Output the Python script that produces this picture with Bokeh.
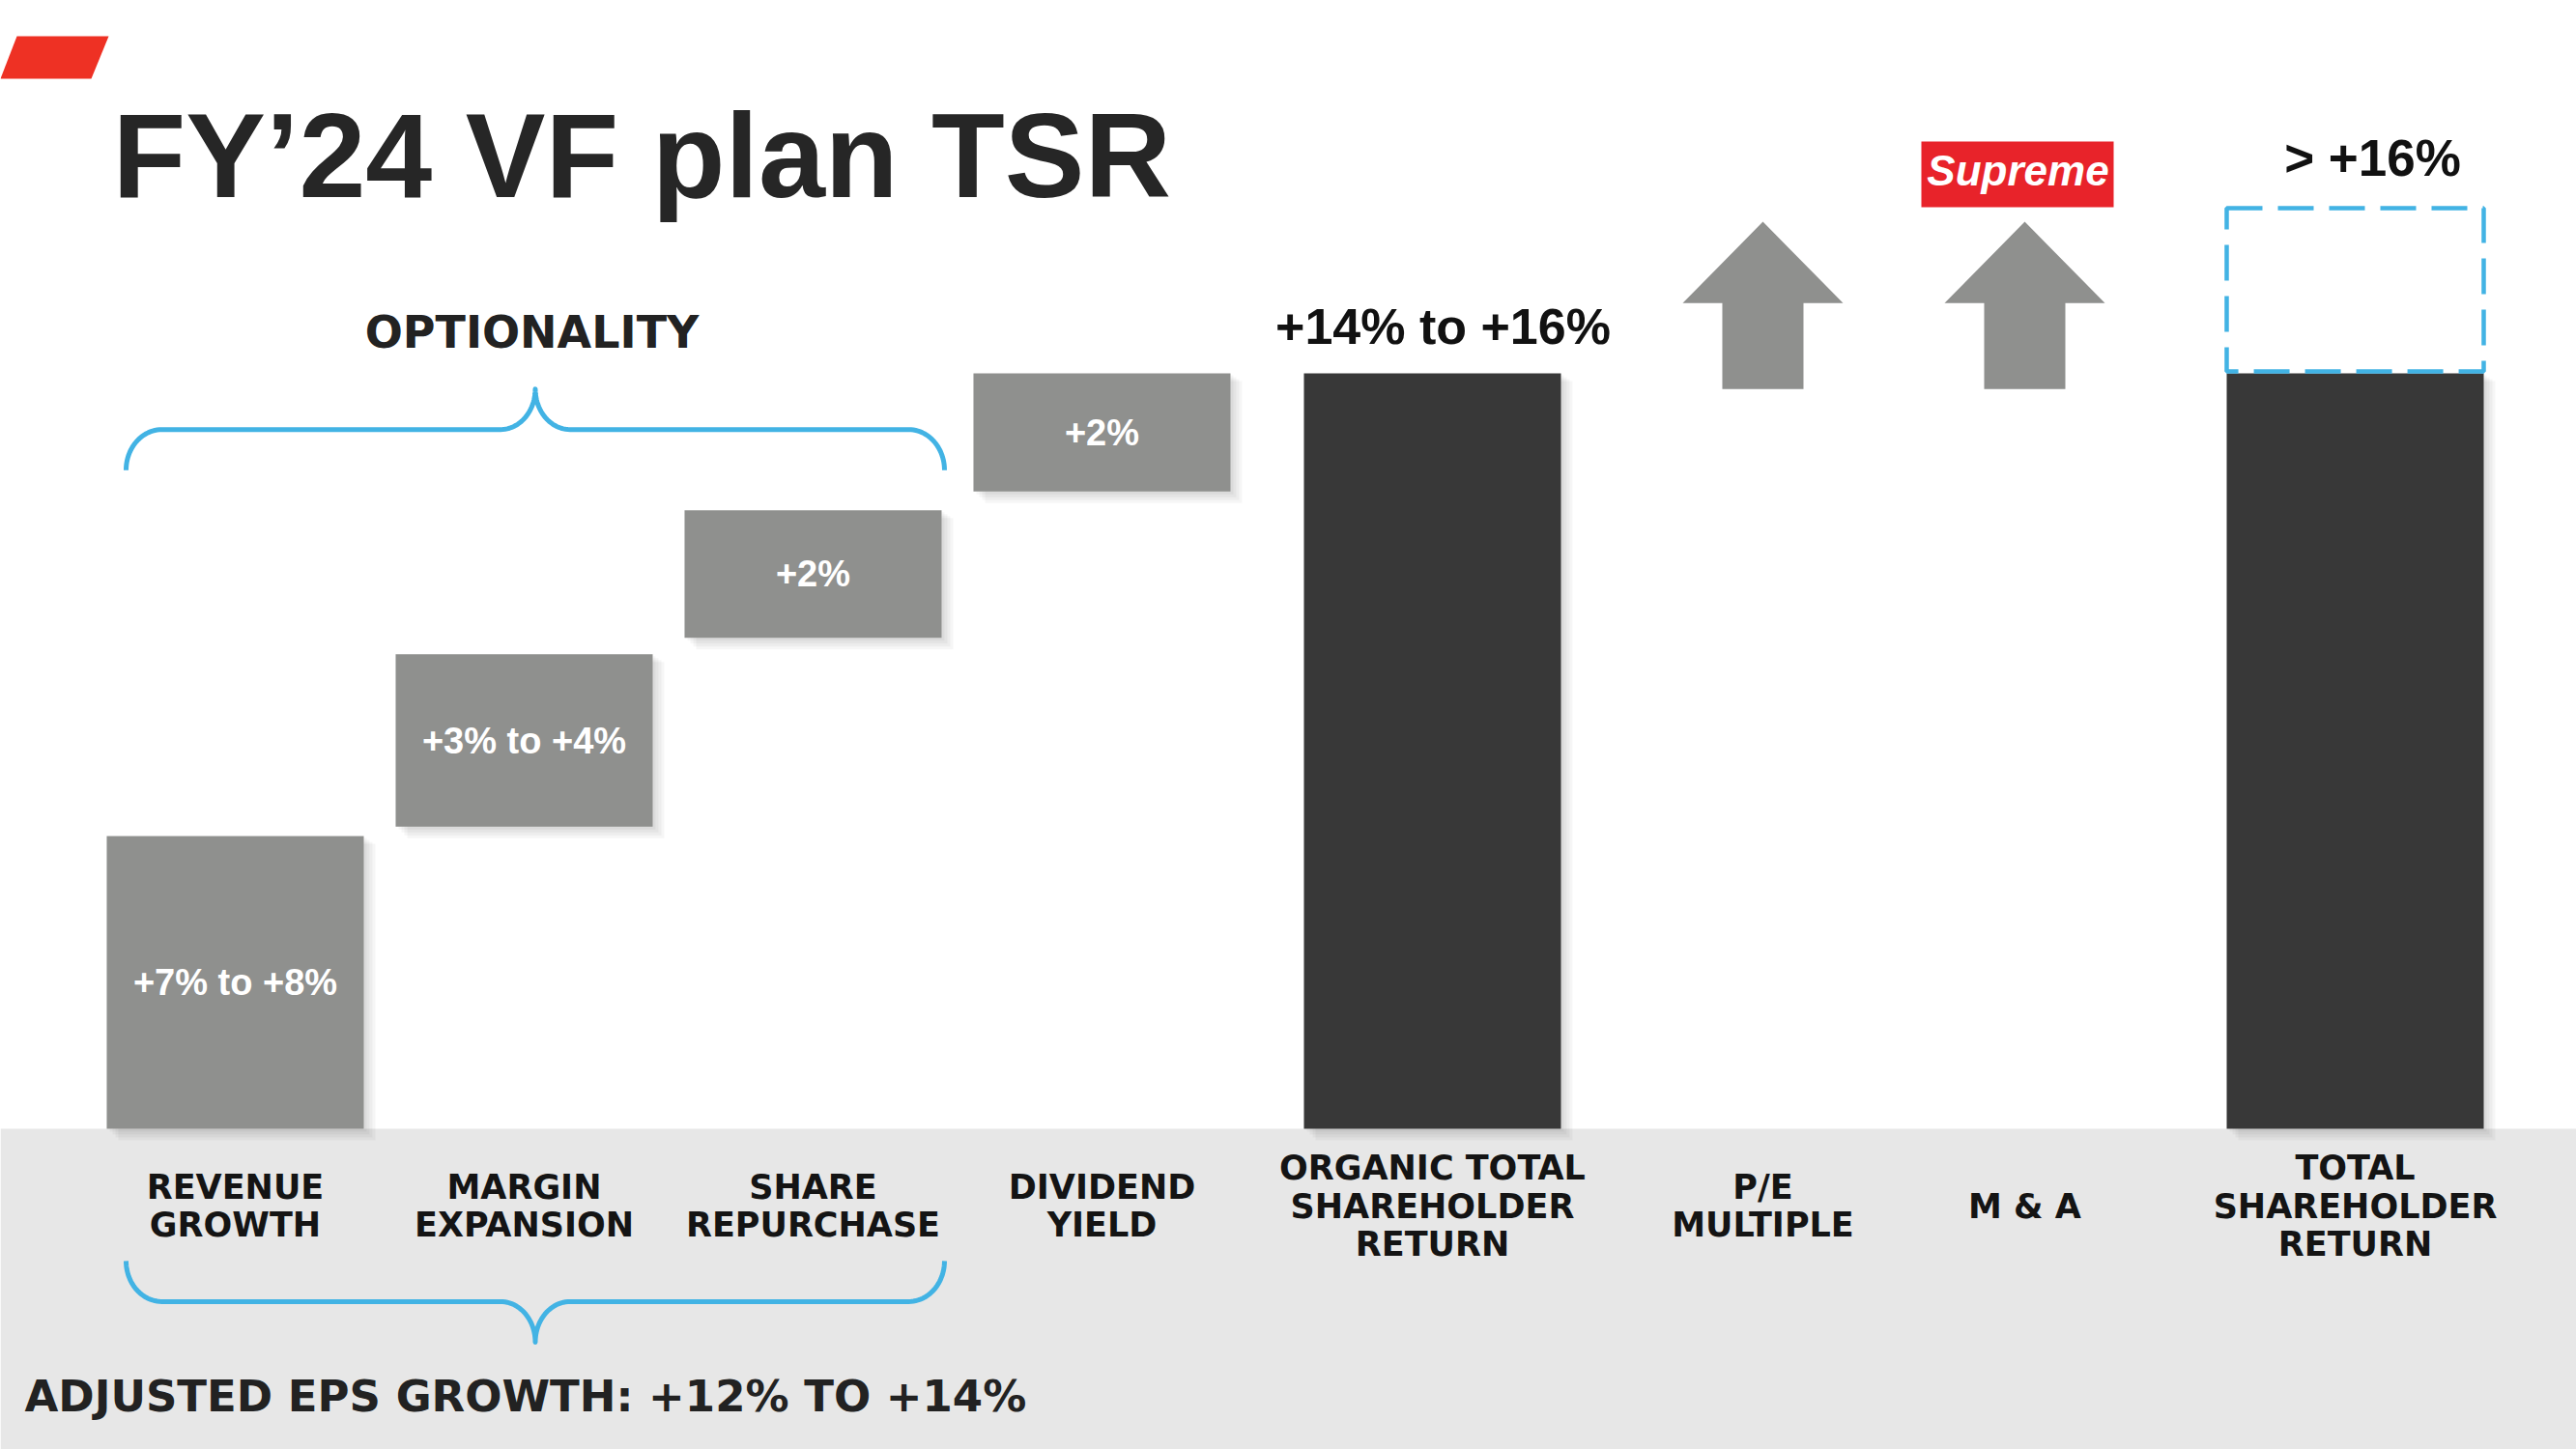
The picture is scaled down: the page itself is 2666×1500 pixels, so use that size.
import math
from bokeh.plotting import figure
from bokeh.models import (ColumnDataSource, FactorRange, Range1d, BoxAnnotation,
                          PolyAnnotation, Label)
from bokeh.transform import dodge
from bokeh.core.properties import value
from bokeh.embed import file_html
from bokeh.resources import INLINE

# ---------------- data ----------------
groups = ["eps", "eps", "eps", "eps", "organic", "upside", "upside", "total"]
subgroups = ["eps", "eps", "eps", "eps", "organic", "pe", "ma", "total"]
categories = ["REVENUE GROWTH", "MARGIN EXPANSION", "SHARE REPURCHASE", "DIVIDEND YIELD",
              "ORGANIC TOTAL SHAREHOLDER RETURN", "P/E MULTIPLE", "M & A",
              "TOTAL SHAREHOLDER RETURN"]
category_labels = ["REVENUE\nGROWTH", "MARGIN\nEXPANSION", "SHARE\nREPURCHASE",
                   "DIVIDEND\nYIELD", "ORGANIC TOTAL\nSHAREHOLDER\nRETURN",
                   "P/E\nMULTIPLE", "M & A", "TOTAL\nSHAREHOLDER\nRETURN"]

# waterfall steps (percent, as drawn)
step_index = [0, 1, 2, 3]
step_bottom = [0.0, 6.4, 10.4, 13.5]
step_top = [6.2, 10.05, 13.1, 16.0]
step_labels = ["+7% to +8%", "+3% to +4%", "+2%", "+2%"]

# totals
total_index = [4, 7]
total_top = [16.0, 16.0]
organic_label = "+14% to +16%"
tsr_label = "> +16%"
tsr_upside_top = 19.5          # dashed "more than" box above the TSR bar

# upside drivers drawn as arrows
arrow_index = [5, 6]

title_text = "FY\u201924 VF plan TSR"
optionality_text = "OPTIONALITY"
eps_text = "ADJUSTED EPS GROWTH: +12% TO +14%"
logo_text = "Supreme"

# ---------------- layout / style ----------------
W, H = 2666, 1500
FACTOR_PAD = 0.1033
SUBGROUP_PAD = 0.0
GROUP_PAD = 0.262
X_PAD = 0.3708
SHIFT = 0.0258
Y_MIN, Y_MAX = -6.793, 23.898
PX = 1 / 271.0                                  # x units per pixel
PY = (Y_MAX - Y_MIN) / H                        # y units per pixel
BAR_W = 266 * PX

STEP_COLOR = "#8f908e"
TOTAL_COLOR = "#383838"
BLUE = "#42b3e4"
BAND = "#e7e7e7"
LABEL_Y = -1.64

factors = list(zip(groups, subgroups, categories))

p = figure(width=W, height=H,
           x_range=FactorRange(factors=factors, factor_padding=FACTOR_PAD,
                               subgroup_padding=SUBGROUP_PAD,
                               group_padding=GROUP_PAD, range_padding=X_PAD,
                               range_padding_units="absolute"),
           y_range=Range1d(Y_MIN, Y_MAX),
           output_backend="svg", toolbar_location=None,
           x_axis_location=None, y_axis_location=None,
           min_border=0, outline_line_color=None)
p.grid.visible = False
p.background_fill_color = "white"
p.border_fill_color = "white"

# grey band below the baseline
p.add_layout(BoxAnnotation(top=0, fill_color=BAND, fill_alpha=1.0,
                           line_alpha=0, level="underlay"))

# ---------------- bars ----------------
bar_x = [factors[i] for i in step_index] + [factors[i] for i in total_index]
bar_bottom = step_bottom + [0.0] * len(total_index)
bar_top = step_top + total_top
bar_color = [STEP_COLOR] * len(step_index) + [TOTAL_COLOR] * len(total_index)

# soft drop shadow
for k in range(1, 5):
    sh = ColumnDataSource(dict(x=bar_x,
                               top=[t - k * 2 * PY for t in bar_top],
                               bottom=[b - k * 3 * PY for b in bar_bottom]))
    p.vbar(x=dodge("x", SHIFT + k * 3 * PX, range=p.x_range), width=BAR_W,
           top="top", bottom="bottom", source=sh,
           fill_color="black", fill_alpha=0.035, line_alpha=0)

bars = ColumnDataSource(dict(x=bar_x, top=bar_top, bottom=bar_bottom, color=bar_color))
p.vbar(x=dodge("x", SHIFT, range=p.x_range), width=BAR_W, top="top", bottom="bottom",
       source=bars, fill_color="color", line_alpha=0)

# dashed upside box above total shareholder return
p.vbar(x=dodge("x", SHIFT, range=p.x_range), width=BAR_W,
       top="top", bottom="bottom",
       source=ColumnDataSource(dict(x=[factors[7]], top=[tsr_upside_top],
                                    bottom=[total_top[1] + 2 * PY])),
       fill_alpha=0, line_color=BLUE, line_width=4.5, line_dash="37 16")

# step value labels
steps = ColumnDataSource(dict(x=[factors[i] for i in step_index],
                              y=[(b + t) / 2 for b, t in zip(step_bottom, step_top)],
                              text=step_labels))
p.text(x=dodge("x", SHIFT, range=p.x_range), y="y", text="text", source=steps,
       text_align="center", text_baseline="middle", text_color="white",
       text_font=value("Liberation Sans"), text_font_style="bold",
       text_font_size="38px")

# total labels
p.text(x=dodge("x", SHIFT, range=p.x_range), y="y", text="text",
       source=ColumnDataSource(dict(x=[factors[4]], y=[total_top[0]], text=[organic_label])),
       text_align="center", text_baseline="middle", text_color="#111111",
       text_font=value("Liberation Sans"), text_font_style="bold",
       text_font_size="52px", y_offset=-49, x_offset=11)
p.text(x=dodge("x", SHIFT, range=p.x_range), y="y", text="text",
       source=ColumnDataSource(dict(x=[factors[7]], y=[tsr_upside_top], text=[tsr_label])),
       text_align="center", text_baseline="middle", text_color="#111111",
       text_font=value("Liberation Sans"), text_font_style="bold",
       text_font_size="53px", y_offset=-52, x_offset=18)

# ---------------- arrows (P/E, M&A) ----------------
ARROW_BASE, ARROW_NECK, ARROW_TIP = 15.67, 17.49, 19.21
HEAD, SHAFT = 83 * PX, 42 * PX
arrow_off = [-SHAFT, SHAFT, SHAFT, HEAD, 0.0, -HEAD, -SHAFT]
arrow_y = [ARROW_BASE, ARROW_BASE, ARROW_NECK, ARROW_NECK, ARROW_TIP, ARROW_NECK, ARROW_NECK]
for i in arrow_index:
    p.patch(x=[factors[i] + (SHIFT + o,) for o in arrow_off], y=arrow_y,
            fill_color=STEP_COLOR, line_alpha=0)

# ---------------- braces ----------------
def brace(xl, xr, y_end, y_line, y_tip, rc, rt, n=24):
    xc = (xl + xr) / 2
    xs, ys = [], []
    for j in range(n + 1):
        t = j / n * math.pi / 2
        xs.append(xl + rc * (1 - math.cos(t))); ys.append(y_end + (y_line - y_end) * math.sin(t))
    for j in range(n + 1):
        t = j / n * math.pi / 2
        xs.append(xc - rt + rt * math.sin(t)); ys.append(y_tip - (y_tip - y_line) * math.cos(t))
    for j in range(n, -1, -1):
        t = j / n * math.pi / 2
        xs.append(xc + rt - rt * math.sin(t)); ys.append(y_tip - (y_tip - y_line) * math.cos(t))
    for j in range(n, -1, -1):
        t = j / n * math.pi / 2
        xs.append(xr - rc * (1 - math.cos(t))); ys.append(y_end + (y_line - y_end) * math.sin(t))
    return xs, ys

BR_L, BR_R = -113 * PX, 734 * PX          # brace ends relative to the first category
for (ye, yl, yt) in [(13.95, 14.81, 15.67), (-2.80, -3.66, -4.52)]:
    bx, by = brace(BR_L, BR_R, ye, yl, yt, 37 * PX, 36 * PX)
    p.line(x=[factors[0] + (SHIFT + o,) for o in bx], y=by, line_color=BLUE,
           line_width=5, line_join="round")

# ---------------- category labels ----------------
cats = ColumnDataSource(dict(x=factors, y=[LABEL_Y] * len(factors), text=category_labels))
p.text(x=dodge("x", SHIFT, range=p.x_range), y="y", text="text", source=cats,
       text_align="center", text_baseline="middle", text_color="#141414",
       text_font=value("DejaVu Sans"), text_font_style="bold",
       text_font_size="35px", text_line_height=0.98)

# ---------------- decorations (screen units, y from bottom) ----------------
p.add_layout(PolyAnnotation(xs=[17, 112, 94, 0], ys=[1463, 1463, 1419, 1419],
                            xs_units="screen", ys_units="screen",
                            fill_color="#ee3124", fill_alpha=1.0, line_alpha=0))
p.add_layout(Label(x=116, y=1340, x_units="screen", y_units="screen", text=title_text,
                   text_baseline="middle",
                   text_font="Liberation Sans", text_font_style="bold",
                   text_font_size="124px", text_color="#262626"))
p.add_layout(Label(x=550, y=1157, x_units="screen", y_units="screen", text=optionality_text,
                   text_align="center", text_baseline="middle",
                   text_font="DejaVu Sans", text_font_style="bold",
                   text_font_size="46px", text_color="#222222"))
p.add_layout(Label(x=25, y=55, x_units="screen", y_units="screen", text=eps_text,
                   text_baseline="middle",
                   text_font="DejaVu Sans", text_font_style="bold",
                   text_font_size="45px", text_color="#222222"))
p.add_layout(BoxAnnotation(left=1988, right=2187, bottom=1286, top=1354,
                           left_units="screen", right_units="screen",
                           bottom_units="screen", top_units="screen",
                           fill_color="#e8232a", fill_alpha=1.0, line_alpha=0))
p.add_layout(Label(x=2088, y=1324, x_units="screen", y_units="screen", text=logo_text,
                   text_align="center", text_baseline="middle", text_font="Liberation Sans",
                   text_font_style="bold italic", text_font_size="44px",
                   text_color="white"))

open("out.html", "w").write(file_html(p, INLINE, title="FY24 VF plan TSR"))
